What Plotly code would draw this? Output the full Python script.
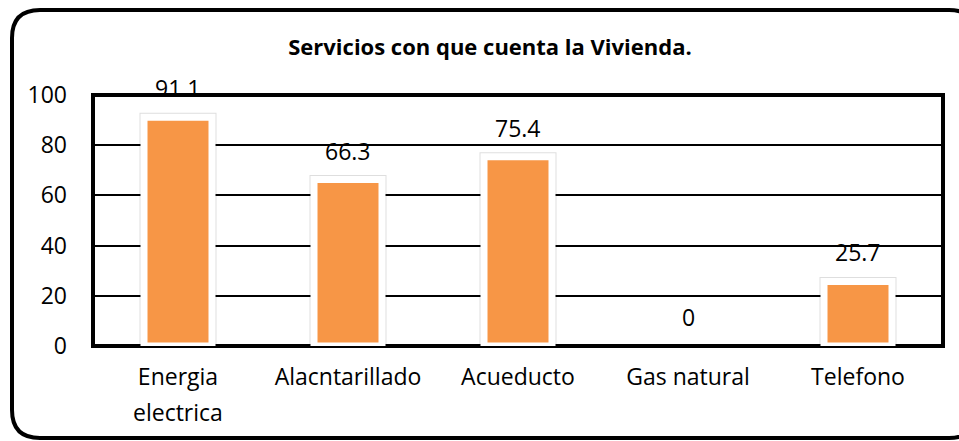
import plotly.graph_objects as go

# ---- data ----
categories = ["Energia electrica", "Alacntarillado", "Acueducto", "Gas natural", "Telefono"]
values = [91.1, 66.3, 75.4, 0, 25.7]
label_line1 = ["Energia", "Alacntarillado", "Acueducto", "Gas natural", "Telefono"]
label_line2 = ["electrica", "", "", "", ""]
y_ticks = [0, 20, 40, 60, 80, 100]
title_text = "Servicios con que cuenta la Vivienda."

W, H = 959, 441
L, R, T, B = 93, 943, 95, 346  # plot area in pixels
FONT = "Open Sans"
FS = 23
ORANGE = "#F79646"


def px(x):
    return (x - L) / (R - L)


def py(y):
    return (B - y) / (B - T)


# zero-height bars are not drawn (no outline at the baseline)
bar_values = [v if v > 0 else None for v in values]

fig = go.Figure()
# soft shadow ring behind bars
fig.add_trace(go.Bar(
    x=categories, y=bar_values, width=0.4,
    marker=dict(color="white", line=dict(color="rgba(0,0,0,0.13)", width=9)),
    hoverinfo="skip", showlegend=False,
))
fig.add_trace(go.Bar(
    x=categories, y=bar_values, width=0.4,
    marker=dict(color=ORANGE, line=dict(color="white", width=7)),
    showlegend=False,
))

annotations = []
for c, v in zip(categories, values):
    annotations.append(dict(
        x=c, y=v, xref="x", yref="y", text=f"{v:g}", showarrow=False,
        yshift=29, yanchor="middle", font=dict(family=FONT, size=FS, color="black"),
    ))
for c, l2 in zip(categories, label_line2):
    if l2:
        annotations.append(dict(
            x=c, y=py(412), xref="x", yref="paper", text=l2, showarrow=False,
            yanchor="middle", font=dict(family=FONT, size=FS, color="black"),
        ))

# rounded outer frame (its right edge lies just beyond the visible page)
x0, x1, y0, y1, r = 12, 977, 10, 438, 28
pts = [
    ("M", (x0 + r, y0)), ("L", (x1 - r, y0)), ("Q", (x1, y0), (x1, y0 + r)),
    ("L", (x1, y1 - r)), ("Q", (x1, y1), (x1 - r, y1)),
    ("L", (x0 + r, y1)), ("Q", (x0, y1), (x0, y1 - r)),
    ("L", (x0, y0 + r)), ("Q", (x0, y0), (x0 + r, y0)),
]
path = ""
for cmd, *ps in pts:
    path += cmd + " " + " ".join(f"{px(a):.5f},{py(b):.5f}" for a, b in ps) + " "
path += "Z"

shapes = [
    dict(type="path", path=path, xref="paper", yref="paper",
         line=dict(color="black", width=4), layer="above"),
    dict(type="rect", x0=0, x1=1, y0=0, y1=1, xref="paper", yref="paper",
         line=dict(color="black", width=4), layer="below"),
    dict(type="line", x0=0, x1=1, y0=1, y1=1, xref="paper", yref="paper",
         line=dict(color="black", width=4), layer="above"),
]

fig.update_layout(
    width=W, height=H,
    margin=dict(l=L, r=W - R, t=T, b=H - B),
    paper_bgcolor="white", plot_bgcolor="white",
    barmode="overlay",
    title=dict(text=f"<b>{title_text}</b>", x=490 / W, xref="container", xanchor="center",
               y=1 - 47 / H, yref="container", yanchor="middle",
               font=dict(family=FONT, size=22, color="black")),
    xaxis=dict(tickvals=categories, ticktext=label_line1, ticks="",
               tickfont=dict(family=FONT, size=FS, color="black"),
               ticklabelstandoff=15, showgrid=False, showline=False),
    yaxis=dict(range=[0, 100], tickvals=y_ticks, ticks="",
               tickfont=dict(family=FONT, size=FS, color="black"),
               ticklabelstandoff=25, showgrid=True, gridcolor="black", gridwidth=1.5,
               zeroline=False, showline=False),
    annotations=annotations,
    shapes=shapes,
    font=dict(family=FONT),
)

fig.write_html("out.html", config={"displayModeBar": False},
               post_script="document.body.style.margin='0';")
